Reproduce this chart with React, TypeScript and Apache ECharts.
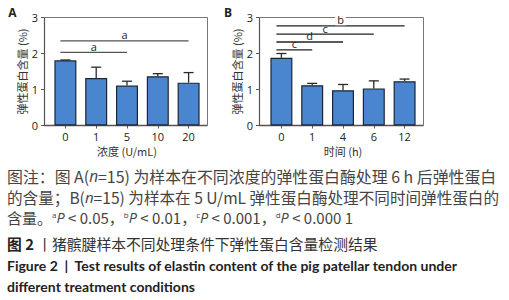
import React, { useEffect, useRef } from "react";
import * as echarts from "echarts";

// ---- data ----
const catsA = ["0", "1", "5", "10", "20"];
const meanA = [1.81, 1.32, 1.11, 1.37, 1.19];
const sdA = [0.01, 0.3, 0.12, 0.07, 0.28];
const sigLinesA = [
  [0, 2, 2.03],
  [0, 4, 2.35],
];
const sigLabelsA = ["a", "a"];

const catsB = ["0", "1", "4", "6", "12"];
const meanB = [1.88, 1.12, 0.98, 1.03, 1.23];
const sdB = [0.12, 0.05, 0.16, 0.21, 0.06];
const sigLinesB = [
  [0, 1, 2.1],
  [0, 2, 2.32],
  [0, 3, 2.54],
  [0, 4, 2.77],
];
const sigLabelsB = ["c", "d", "c", "b"];

const yTicks = { min: 0, max: 3, interval: 1 };
const xNameA = "浓度 (U/mL)";
const xNameB = "时间 (h)";
const yName = "弹性蛋白含量 (%)";

const FONT = '"Open Sans", "Noto Sans CJK SC", sans-serif';
const CJK = '"Noto Sans CJK SC", "Open Sans", sans-serif';

function errSeries(xi: number, yi: number, means: number[], sds: number[]) {
  return {
    type: "custom",
    xAxisIndex: xi,
    yAxisIndex: yi,
    z: 5,
    data: means.map((m, i) => [i, m, sds[i]]),
    renderItem: (params: any, api: any) => {
      const x = api.value(0);
      const m = api.value(1);
      const e = api.value(2);
      const p0 = api.coord([x, m]);
      const p1 = api.coord([x, m + e]);
      const st = { stroke: "#2a2a2a", lineWidth: 1.3 };
      return {
        type: "group",
        children: [
          { type: "line", shape: { x1: p0[0], y1: p0[1], x2: p1[0], y2: p1[1] }, style: st },
          { type: "line", shape: { x1: p1[0] - 5, y1: p1[1], x2: p1[0] + 5, y2: p1[1] }, style: st },
        ],
      };
    },
  };
}

function sigSeries(xi: number, yi: number, lines: number[][], labels: string[], color: string) {
  return {
    type: "custom",
    xAxisIndex: xi,
    yAxisIndex: yi,
    z: 10,
    data: lines,
    renderItem: (params: any, api: any) => {
      const a = api.coord([api.value(0), api.value(2)]);
      const b = api.coord([api.value(1), api.value(2)]);
      const top = api.coord([0, yTicks.max])[1];
      const x1 = a[0] - 5;
      const x2 = b[0];
      const ly = a[1] - 6;
      const nearTop = ly - top < 6;
      return {
        type: "group",
        children: [
          {
            type: "line",
            shape: { x1, y1: a[1], x2, y2: a[1] },
            style: { stroke: color, lineWidth: 1.3 },
          },
          {
            type: "text",
            x: (x1 + x2) / 2,
            y: ly,
            style: {
              text: labels[params.dataIndex],
              fontSize: 11,
              fontFamily: FONT,
              fill: "#222",
              align: "center",
              verticalAlign: "middle",
              backgroundColor: nearTop ? "#fff" : undefined,
              padding: nearTop ? [0, 2] : 0,
            },
          },
        ],
      };
    },
  };
}

function xAxisCfg(cats: string[], name: string, gi: number) {
  return {
    type: "category",
    gridIndex: gi,
    data: cats,
    name,
    nameLocation: "middle",
    nameGap: 19,
    nameTextStyle: { fontSize: 11, color: "#333", fontFamily: CJK, lineHeight: 12 },
    axisLine: { show: false },
    axisTick: { show: true, alignWithLabel: true, length: 3, lineStyle: { color: "#555" } },
    axisLabel: { fontSize: 11, color: "#222", margin: 5, fontFamily: FONT, lineHeight: 12 },
  };
}

function yAxisCfg(gi: number, offset: number) {
  return {
    type: "value",
    gridIndex: gi,
    min: yTicks.min,
    max: yTicks.max,
    interval: yTicks.interval,
    offset,
    name: yName,
    nameLocation: "middle",
    nameRotate: 90,
    nameGap: 13,
    nameTextStyle: { fontSize: 11, color: "#333", fontFamily: CJK },
    splitLine: { show: false },
    axisLine: { show: true, lineStyle: { color: "#555", width: 1.2 } },
    axisTick: { show: true, length: 3, lineStyle: { color: "#555" } },
    axisLabel: { fontSize: 11, color: "#222", margin: 6, fontFamily: FONT },
  };
}

function barSeries(xi: number, yi: number, vals: number[]) {
  return {
    type: "bar",
    xAxisIndex: xi,
    yAxisIndex: yi,
    data: vals,
    barWidth: 22,
    z: 3,
    itemStyle: { color: "#4a86cf", borderColor: "#1c2538", borderWidth: 1.2 },
  };
}

function frame(left: number, right: number, top: number, bottom: number) {
  return [
    {
      type: "polyline",
      z: 1,
      shape: { points: [[left, top], [right, top], [right, bottom]] },
      style: { stroke: "#777", lineWidth: 1, fill: "none" },
    },
    {
      type: "line",
      z: 2,
      shape: { x1: left, y1: bottom, x2: right, y2: bottom },
      style: { stroke: "#5a524c", lineWidth: 1.5 },
    },
  ];
}

const LH = 16;
const sup = { fontSize: 8, lineHeight: 10, padding: [0, 0, 6, 0], fill: "#444", fontFamily: FONT };
const itS = (fs: number) => ({ fontStyle: "italic", fontSize: fs - 0.5, lineHeight: LH, fontFamily: FONT, fill: "#444" });

export default function App() {
  const ref = useRef<HTMLDivElement>(null);
  useEffect(() => {
    if (!ref.current) return;
    const chart = echarts.init(ref.current, undefined, { renderer: "svg" });
    const top = 17.5;
    const h = 108;
    const cap = (fs: number) => ({ fontSize: fs, lineHeight: LH, fontFamily: CJK, fill: "#444", verticalAlign: "middle" });
    chart.setOption({
      animation: false,
      grid: [
        { left: 50, top, width: 154, height: h },
        { left: 266, top, width: 154, height: h },
      ],
      xAxis: [xAxisCfg(catsA, xNameA, 0), xAxisCfg(catsB, xNameB, 1)],
      yAxis: [yAxisCfg(0, 6), yAxisCfg(1, 7)],
      series: [
        barSeries(0, 0, meanA),
        errSeries(0, 0, meanA, sdA),
        sigSeries(0, 0, sigLinesA, sigLabelsA, "#555"),
        barSeries(1, 1, meanB),
        errSeries(1, 1, meanB, sdB),
        sigSeries(1, 1, sigLinesB, sigLabelsB, "#222"),
      ],
      graphic: [
        ...frame(44, 207.5, top, top + h),
        ...frame(259, 423.5, top, top + h),
        {
          type: "text",
          x: 12.5,
          y: 12.5,
          style: { text: "A", fontSize: 12, fontWeight: "bold", fontFamily: FONT, fill: "#222", align: "center", verticalAlign: "middle" },
        },
        {
          type: "text",
          x: 228,
          y: 12.5,
          style: { text: "B", fontSize: 12, fontWeight: "bold", fontFamily: FONT, fill: "#222", align: "center", verticalAlign: "middle" },
        },
        {
          type: "text",
          x: 7,
          y: 176.7,
          style: {
            text: "图注：图 A({it|n}=15) 为样本在不同浓度的弹性蛋白酶处理 6 h 后弹性蛋白",
            ...cap(15.9),
            rich: { it: itS(15.9) },
          },
        },
        {
          type: "text",
          x: 7,
          y: 197.3,
          style: {
            text: "的含量；B({it|n}=15) 为样本在 5 U/mL 弹性蛋白酶处理不同时间弹性蛋白的",
            ...cap(15.6),
            rich: { it: itS(15.6) },
          },
        },
        {
          type: "text",
          x: 7,
          y: 217,
          style: {
            text:
              "含量。{sup|a}{it|P} < 0.05，{sup|b}{it|P} < 0.01，{sup|c}{it|P} < 0.001，{sup|d}{it|P} < 0.000 1",
            ...cap(15),
            rich: { it: itS(15), sup },
          },
        },
        {
          type: "text",
          x: 7,
          y: 243.3,
          style: {
            text: "{b|图 2} 丨猪髌腱样本不同处理条件下弹性蛋白含量检测结果",
            fontSize: 14.8,
            lineHeight: LH,
            fontFamily: CJK,
            fill: "#333",
            verticalAlign: "middle",
            rich: { b: { fontWeight: "bold", fontSize: 14.8, lineHeight: LH, fontFamily: CJK, fill: "#222" } },
          },
        },
        {
          type: "text",
          x: 7,
          y: 265,
          style: {
            text: "Figure 2  |  Test results of elastin content of the pig patellar tendon under",
            fontSize: 14,
            lineHeight: LH,
            fontWeight: "bold",
            fontFamily: "Lato, sans-serif",
            fill: "#222",
            verticalAlign: "middle",
          },
        },
        {
          type: "text",
          x: 7,
          y: 286.7,
          style: {
            text: "different treatment conditions",
            fontSize: 14,
            lineHeight: LH,
            fontWeight: "bold",
            fontFamily: "Lato, sans-serif",
            fill: "#222",
            verticalAlign: "middle",
          },
        },
      ],
    });
    return () => chart.dispose();
  }, []);
  return (
    <div
      ref={ref}
      style={{ position: "fixed", left: 0, top: 0, width: 509, height: 300, background: "#fff" }}
    />
  );
}
